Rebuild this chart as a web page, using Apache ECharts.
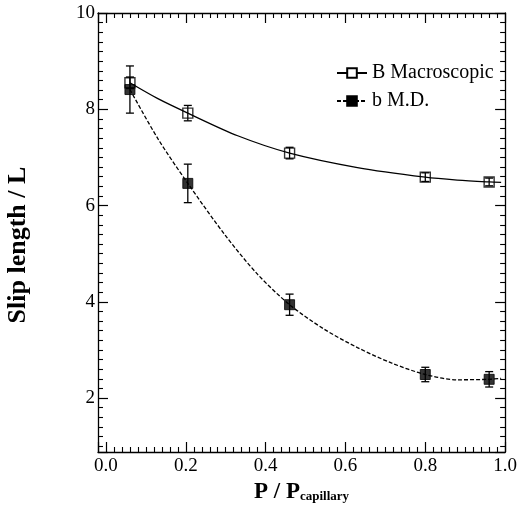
<!DOCTYPE html>
<html><head><meta charset="utf-8">
<script src="https://cdn.jsdelivr.net/npm/echarts@6/dist/echarts.min.js"></script>
<style>html,body{margin:0;padding:0;background:#fff}#c{width:520px;height:520px}</style>
</head><body><div id="c"></div>
<script>
// ---- data ----
const seriesNames = ['B Macroscopic', 'b M.D.'];
// measured points with error bars
const macroX = [0.06, 0.205, 0.46, 0.80, 0.96];
const macroY = [8.55, 7.92, 7.09, 6.59, 6.49];
const macroErr = [0.12, 0.16, 0.12, 0.09, 0.08];
const mdX = [0.06, 0.205, 0.46, 0.80, 0.96];
const mdY = [8.41, 6.46, 3.94, 2.49, 2.39];
const mdErr = [0.49, 0.40, 0.22, 0.15, 0.16];
// fitted curves
const macroFitX = [0.06, 0.13, 0.205, 0.33, 0.46, 0.63, 0.80, 0.88, 0.96, 0.99];
const macroFitY = [8.55, 8.22, 7.92, 7.45, 7.09, 6.79, 6.59, 6.53, 6.49, 6.48];
const mdFitX = [0.06, 0.13, 0.205, 0.30, 0.38, 0.46, 0.545, 0.63, 0.715, 0.80, 0.88, 0.96, 0.99];
const mdFitY = [8.41, 7.39, 6.46, 5.37, 4.57, 3.94, 3.44, 3.05, 2.73, 2.49, 2.38, 2.39, 2.41];
// axes
const xMin = -0.02, xMax = 1.0, xStep = 0.2;
const yMin = 0.88, yMax = 10, yStep = 2;

const FONT = '"Liberation Serif", "Times New Roman", serif';
const BLACK = '#000';

const pairs = (xs, ys) => xs.map((x, i) => [x, ys[i]]);
const triples = (xs, ys, es) => xs.map((x, i) => [x, ys[i], es[i]]);

function errRender(params, api) {
  const x = api.value(0), y = api.value(1), e = api.value(2);
  const t = api.coord([x, y + e]);
  const b = api.coord([x, y - e]);
  const hw = 4;
  const st = { stroke: BLACK, lineWidth: 1.3 };
  return { type: 'group', children: [
    { type: 'line', shape: { x1: t[0], y1: t[1], x2: b[0], y2: b[1] }, style: st },
    { type: 'line', shape: { x1: t[0] - hw, y1: t[1], x2: t[0] + hw, y2: t[1] }, style: st },
    { type: 'line', shape: { x1: b[0] - hw, y1: b[1], x2: b[0] + hw, y2: b[1] }, style: st }
  ]};
}

function xAxisDef(pos, labels) {
  return {
    type: 'value', position: pos, min: xMin, max: xMax,
    minInterval: xStep, maxInterval: xStep,
    axisLine: { show: true, onZero: false, lineStyle: { color: BLACK, width: 1.3 } },
    axisTick: { show: true, inside: true, length: 10, lineStyle: { color: BLACK, width: 1.2 } },
    minorTick: { show: true, splitNumber: 10, length: 5, lineStyle: { color: BLACK, width: 1.1 } },
    splitLine: { show: false }, minorSplitLine: { show: false },
    axisLabel: labels ? {
      show: true, showMinLabel: false, margin: 5,
      formatter: v => v.toFixed(1),
      fontFamily: FONT, fontSize: 19, color: BLACK
    } : { show: false },
    name: labels ? '{a|P / P}{b|capillary}' : '',
    nameLocation: 'middle', nameGap: 24,
    nameTextStyle: { rich: {
      a: { fontFamily: FONT, fontSize: 23, fontWeight: 'bold', color: BLACK },
      b: { fontFamily: FONT, fontSize: 13, fontWeight: 'bold', color: BLACK, padding: [9, 0, 0, 0] }
    } }
  };
}
function yAxisDef(pos, labels) {
  return {
    type: 'value', position: pos, min: yMin, max: yMax,
    minInterval: yStep, maxInterval: yStep,
    axisLine: { show: true, onZero: false, lineStyle: { color: BLACK, width: 1.3 } },
    axisTick: { show: true, inside: true, length: 10, lineStyle: { color: BLACK, width: 1.2 } },
    minorTick: { show: true, splitNumber: 10, length: 5, lineStyle: { color: BLACK, width: 1.1 } },
    splitLine: { show: false }, minorSplitLine: { show: false },
    axisLabel: labels ? {
      show: true, showMinLabel: false, margin: 3,
      formatter: v => String(Math.round(v)),
      fontFamily: FONT, fontSize: 19, color: BLACK
    } : { show: false }
  };
}

const chart = echarts.init(document.getElementById('c'), null, { renderer: 'canvas' });
chart.setOption({
  animation: false,
  backgroundColor: '#fff',
  grid: { left: 98, right: 12, top: 13, bottom: 68, containLabel: false },
  xAxis: [xAxisDef('bottom', true), xAxisDef('top', false)],
  yAxis: [yAxisDef('left', true), yAxisDef('right', false)],
  legend: {
    orient: 'vertical', left: 331, top: 58, itemGap: 8,
    itemWidth: 30, itemHeight: 12,
    textStyle: { fontFamily: FONT, fontSize: 20, color: BLACK },
    data: seriesNames,
    selectedMode: false
  },
  graphic: [{
    type: 'text', x: 18, y: 245, rotation: Math.PI / 2,
    style: { text: 'Slip length / L', fontFamily: FONT, fontSize: 26, fontWeight: 'bold',
             fill: BLACK, align: 'center', verticalAlign: 'middle' }
  }],
  series: [
    { name: seriesNames[0], type: 'line', xAxisIndex: 0, yAxisIndex: 0,
      data: pairs(macroFitX, macroFitY), smooth: 0.3, showSymbol: false,
      symbol: 'rect', symbolSize: 10,
      lineStyle: { color: BLACK, width: 1.3, type: 'solid' },
      itemStyle: { color: '#fff', borderColor: BLACK, borderWidth: 1.2 },
      emphasis: { disabled: true }, silent: true, z: 2 },
    { name: seriesNames[1], type: 'line', xAxisIndex: 0, yAxisIndex: 0,
      data: pairs(mdFitX, mdFitY), smooth: 0.3, showSymbol: false,
      symbol: 'rect', symbolSize: 10,
      lineStyle: { color: BLACK, width: 1.3, type: [4, 2] },
      itemStyle: { color: BLACK, borderColor: BLACK, borderWidth: 1 },
      emphasis: { disabled: true }, silent: true, z: 2 },
    { name: 'macroErr', type: 'custom', renderItem: errRender, silent: true,
      data: triples(macroX, macroY, macroErr), z: 3 },
    { name: 'mdErr', type: 'custom', renderItem: errRender, silent: true,
      data: triples(mdX, mdY, mdErr), z: 3 },
    { name: 'macroPts', type: 'scatter', symbol: 'rect', symbolSize: 10,
      data: pairs(macroX, macroY), silent: true,
      itemStyle: { color: 'rgba(255,255,255,0)', borderColor: BLACK, borderWidth: 1.4 }, z: 4 },
    { name: 'mdPts', type: 'scatter', symbol: 'rect', symbolSize: 10,
      data: pairs(mdX, mdY), silent: true,
      itemStyle: { color: BLACK, borderColor: BLACK, borderWidth: 1 }, z: 4 }
  ]
});
</script>
</body></html>
